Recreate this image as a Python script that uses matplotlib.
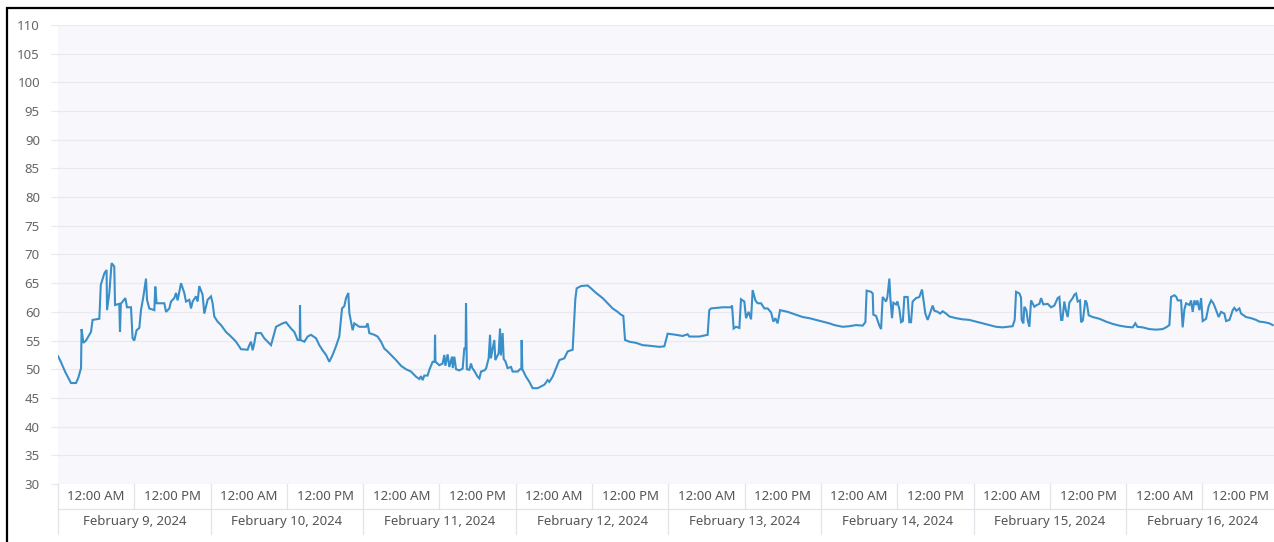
import matplotlib.pyplot as plt
from matplotlib.patches import Rectangle

plt.rcParams['font.family'] = ['Noto Sans', 'DejaVu Sans']

# hours since February 9, 2024 12:00 AM
hours = [
    0.0, 0.36, 1.15, 2.04, 2.83, 3.19, 3.62, 3.71, 3.98, 4.40, 5.19, 5.44, 6.50, 6.73, 7.28, 7.64,
    7.71, 8.07, 8.43, 8.85, 8.97, 9.64, 9.75, 9.88, 10.59, 10.85, 11.48, 11.73, 12.00, 12.36, 12.79,
    13.05, 13.42, 13.84, 14.00, 14.36, 15.15, 15.30, 15.51, 16.72, 16.99, 17.51, 17.77, 18.29, 18.56,
    18.81, 19.35, 19.86, 20.13, 20.65, 20.92, 21.17, 21.70, 21.96, 22.22, 22.74, 23.01, 23.53, 24.06,
    24.32, 24.58, 25.10, 25.64, 26.42, 27.21, 28.00, 28.78, 29.82, 30.09, 30.36, 30.61, 30.87, 31.14,
    31.93, 32.44, 32.97, 33.50, 34.29, 35.33, 35.86, 36.65, 37.17, 37.69, 38.03, 38.06, 38.14, 38.74,
    39.26, 39.79, 40.58, 41.10, 41.62, 42.15, 42.67, 43.19, 43.72, 44.24, 44.67, 45.03, 45.30, 45.66,
    45.82, 46.34, 46.60, 47.39, 48.44, 48.70, 48.96, 49.75, 50.27, 50.80, 51.32, 51.84, 52.37, 53.16,
    53.95, 54.73, 55.52, 56.31, 56.83, 57.09, 57.35, 57.61, 58.13, 58.40, 58.92, 59.24, 59.30, 59.37,
    59.97, 60.49, 60.76, 60.92, 61.28, 61.54, 61.97, 62.09, 62.33, 62.60, 63.12, 63.64, 63.90, 64.11,
    64.17, 64.30, 64.69, 64.96, 65.16, 65.48, 66.00, 66.27, 66.53, 67.05, 67.32, 67.73, 67.95, 68.08,
    68.62, 68.78, 69.30, 69.52, 69.65, 69.93, 70.09, 70.36, 70.71, 71.25, 71.50, 72.29, 72.66, 72.87,
    72.92, 73.03, 73.61, 74.13, 74.65, 75.43, 75.97, 76.49, 77.01, 77.27, 77.79, 78.33, 78.85, 79.63,
    80.15, 80.94, 81.36, 81.57, 82.26, 83.30, 83.83, 84.62, 85.66, 86.44, 87.23, 88.02, 88.55, 88.91,
    89.18, 89.86, 90.91, 91.95, 93.00, 94.57, 95.36, 95.63, 95.88, 97.20, 98.24, 99.02, 99.29, 100.86,
    102.17, 102.43, 102.70, 104.52, 105.85, 106.01, 106.26, 106.64, 107.16, 107.42, 107.94, 108.21,
    108.62, 109.00, 109.25, 109.68, 110.04, 110.57, 111.09, 111.61, 112.15, 112.51, 112.82, 113.18,
    113.56, 114.76, 115.54, 116.33, 117.12, 118.17, 119.22, 120.26, 121.32, 122.10, 123.41, 124.46,
    125.52, 126.55, 126.98, 127.18, 127.87, 128.13, 128.23, 128.66, 129.18, 129.45, 129.70, 130.23,
    130.44, 130.75, 130.91, 131.17, 131.38, 131.81, 132.01, 132.32, 132.59, 132.87, 133.11, 133.63,
    133.89, 134.16, 134.41, 134.95, 135.47, 135.89, 136.10, 136.41, 136.77, 137.04, 137.56, 137.83,
    138.35, 138.73, 139.14, 139.67, 140.19, 141.24, 142.28, 143.33, 144.39, 145.42, 146.48, 147.53,
    148.57, 150.14, 150.46, 150.68, 151.20, 151.46, 151.56, 151.83, 151.98, 152.30, 152.50, 152.77,
    153.04, 153.56, 153.95, 154.35, 154.61, 154.97, 155.65, 156.18, 156.70, 157.22, 157.49, 157.76,
    157.96, 158.27, 158.51, 158.80, 159.06, 159.58, 159.85, 160.12, 160.37, 160.74, 160.90, 161.18,
    161.58, 161.81, 162.10, 162.73, 163.78, 164.84, 165.87, 166.93, 167.98, 169.02, 169.44, 169.76,
    170.59, 171.65, 172.70, 173.74, 174.27, 174.79, 175.06, 175.58, 175.89, 176.10, 176.63, 176.88,
    177.15, 177.42, 177.94, 178.20, 178.46, 178.72, 178.99, 179.19, 179.51, 179.78, 180.03, 180.56,
    180.97, 181.35, 181.71, 182.14, 182.54, 182.92, 183.44, 183.71, 184.23, 184.49, 184.75, 185.01,
    185.33, 185.80, 186.07, 186.85, 187.64, 188.43, 188.95, 189.73, 190.52, 191.04,
]
values = [
    52.3, 51.5, 49.5, 47.6, 47.6, 48.5, 50.2, 57.0, 54.6, 55.0, 56.5, 58.6, 58.8, 64.7, 66.7, 67.3,
    60.3, 63.3, 68.5, 67.9, 61.2, 61.4, 56.5, 61.4, 62.4, 60.8, 60.8, 55.4, 55.0, 56.8, 57.2,
    60.3, 62.6, 65.8, 62.1, 60.6, 60.3, 64.4, 61.5, 61.5, 60.0, 60.6, 61.8, 62.4, 63.3,
    62.0, 65.0, 63.3, 61.8, 62.1, 60.6, 61.8, 62.7, 61.8, 64.5, 63.0, 59.7, 62.1, 62.7,
    61.5, 59.2, 58.3, 57.7, 56.5, 55.7, 54.8, 53.5, 53.4, 54.2, 54.8, 53.3, 54.5, 56.3,
    56.3, 55.4, 54.8, 54.2, 57.4, 58.0, 58.2, 57.1, 56.5, 55.1, 55.1, 61.2, 55.1, 54.8,
    55.7, 56.0, 55.4, 54.2, 53.3, 52.5, 51.3, 52.5, 54.0, 55.7, 60.6, 61.0, 62.4, 63.3,
    59.8, 56.8, 58.0, 57.4, 57.4, 58.0, 56.3, 56.0, 55.7, 54.8, 53.6, 53.1, 52.5, 51.6,
    50.6, 50.0, 49.6, 48.7, 48.3, 48.8, 48.1, 48.9, 48.9, 49.9, 51.3, 51.3, 56.0, 51.3,
    50.7, 51.0, 52.5, 50.6, 52.6, 50.4, 52.2, 50.2, 52.2, 50.0, 49.8, 50.1, 53.6, 53.6,
    61.5, 50.0, 49.9, 51.0, 50.2, 49.7, 48.7, 48.4, 49.6, 49.8, 50.1, 51.9, 56.0, 51.9,
    55.1, 51.6, 52.8, 57.1, 52.4, 56.3, 51.8, 51.4, 50.2, 50.4, 49.6, 49.6, 50.0, 50.0,
    55.1, 50.0, 48.7, 47.8, 46.7, 46.7, 47.0, 47.3, 48.1, 47.8, 48.7, 50.2, 51.6, 51.9,
    53.1, 53.4, 62.2, 64.1, 64.5, 64.6, 64.1, 63.3, 62.4, 61.5, 60.6, 60.0, 59.5, 59.3,
    55.1, 54.8, 54.6, 54.2, 54.1, 53.9, 54.0, 55.1, 56.2, 56.0, 55.8, 56.1, 55.7, 55.7,
    56.0, 60.3, 60.6, 60.8, 60.8, 61.1, 57.1, 57.4, 57.2, 62.2, 61.8, 58.9,
    60.0, 58.7, 63.8, 62.0, 61.5, 61.5, 60.6, 60.6, 59.9, 58.3, 58.9, 58.0,
    60.3, 60.0, 59.7, 59.4, 59.1, 58.9, 58.6, 58.3, 58.0, 57.7, 57.4, 57.5,
    57.7, 57.6, 58.2, 63.7, 63.5, 63.2, 59.5, 59.3, 57.6, 57.0, 62.6, 61.8,
    62.6, 65.8, 62.4, 58.9, 61.6, 61.3, 61.8, 60.5, 58.2, 58.4, 62.6, 62.6,
    58.2, 58.2, 61.8, 62.4, 62.6, 63.9, 62.2, 59.7, 58.6, 59.4, 61.1, 60.2,
    60.0, 59.7, 60.1, 59.7, 59.2, 58.9, 58.7, 58.6, 58.3, 58.0, 57.7, 57.4,
    57.3, 57.5, 58.6, 63.5, 63.2, 62.5, 58.6, 58.0, 60.9, 60.3, 58.6, 57.4,
    62.0, 60.9, 61.2, 61.4, 62.4, 61.3, 61.4, 60.8, 61.1, 62.4, 62.6, 58.6,
    58.6, 61.8, 60.3, 59.1, 61.6, 62.4, 63.0, 63.2, 61.8, 62.0, 58.2, 58.5,
    62.0, 61.5, 59.4, 59.1, 58.8, 58.3, 57.9, 57.6, 57.4, 57.3, 58.0, 57.4,
    57.3, 57.0, 56.9, 57.0, 57.3, 57.7, 62.6, 62.9, 62.6, 62.0, 62.0, 57.3,
    60.4, 61.5, 61.2, 62.0, 60.0, 62.0, 61.2, 62.0, 60.3, 62.4, 58.4, 58.8,
    61.0, 62.0, 61.5, 60.3, 59.1, 60.0, 59.7, 58.4, 58.6, 59.4, 60.3, 60.7,
    60.2, 60.6, 59.7, 59.1, 58.9, 58.6, 58.3, 58.2, 58.0, 57.7,
]

day_labels = ['February 9, 2024', 'February 10, 2024', 'February 11, 2024', 'February 12, 2024',
              'February 13, 2024', 'February 14, 2024', 'February 15, 2024', 'February 16, 2024']
half_labels = ['12:00 AM', '12:00 PM']
y_ticks = list(range(30, 115, 5))

W, H = 1274, 542
fig = plt.figure(figsize=(W / 100, H / 100), dpi=100)
fig.patch.set_facecolor('white')

# axes spans 58..1279 px horizontally, 25..484 px vertically
ax = fig.add_axes([58 / W, (H - 484) / H, (1279.5 - 58.7) / W, (484 - 25) / H])
ax.set_facecolor('#F8F8FC')
ax.plot(hours, values, color='#3A8FC8', lw=1.5, solid_joinstyle='miter')

ax.set_xlim(0, 24 * len(day_labels))
ax.set_ylim(30, 110)
ax.set_yticks(y_ticks)
ax.set_xticks([])
ax.tick_params(axis='y', length=5, width=0.9, color='#E9E9EF', pad=8,
               labelsize=9.5, labelcolor='#666666')
ax.grid(axis='y', color='#E9E9EF', lw=0.9)
ax.set_axisbelow(True)
for s in ax.spines.values():
    s.set_visible(False)

sep = '#E3E3EA'
tr = ax.get_xaxis_transform()
row = 25 / 459
for d, day in enumerate(day_labels):
    for k, lab in enumerate(half_labels):
        x0 = d * 24 + k * 12
        ax.text(x0 + 6, -row / 2, lab, transform=tr, ha='center', va='center',
                fontsize=9.5, color='#555555')
        ax.plot([x0, x0], [0, -row], transform=tr, color=sep, lw=0.9, clip_on=False)
    ax.plot([d * 24, d * 24], [-row, -2 * row], transform=tr, color=sep, lw=0.9, clip_on=False)
    ax.text(d * 24 + 12, -1.5 * row, day, transform=tr, ha='center', va='center',
            fontsize=9.5, color='#555555')
ax.plot([0, 24 * len(day_labels)], [-row, -row], transform=tr, color=sep, lw=0.9, clip_on=False)

# frame around the screenshot
fig.add_artist(Rectangle((7 / W, -0.1), 1.2, (H - 8) / H + 0.1, transform=fig.transFigure,
                         fill=False, edgecolor='black', lw=1.6))

fig.savefig('out.png', dpi=100)
